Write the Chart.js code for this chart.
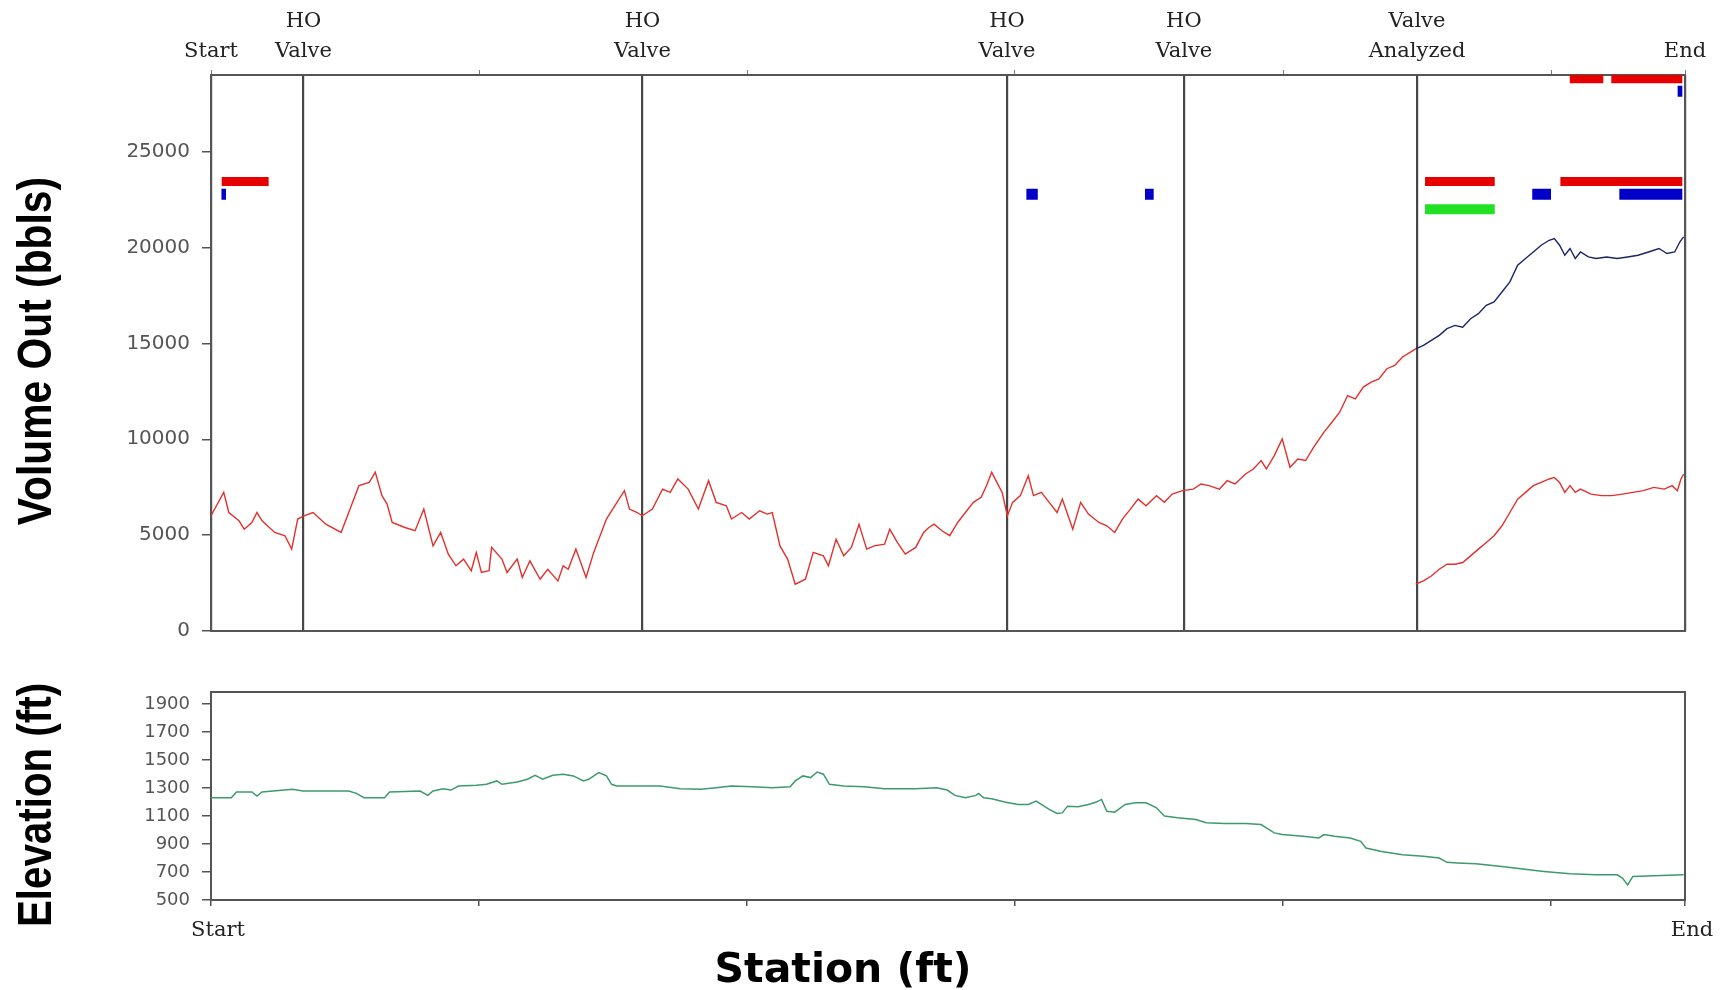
<!DOCTYPE html>
<html>
<head>
<meta charset="utf-8">
<script src="https://cdn.jsdelivr.net/npm/chart.js@4.4.1/dist/chart.umd.min.js"></script>
<style>
  html, body { margin: 0; padding: 0; background: #fff; }
  #wrap { position: relative; width: 1721px; height: 990px; overflow: hidden; }
  canvas { position: absolute; left: 0; }
  #volChart { top: 0; }
  #elevChart { top: 660px; }
  #stationTitle { position: absolute; left: 643px; width: 400px; top: 944px; text-align: center;
    font: bold 41px 'DejaVu Sans', sans-serif; line-height: 48px; color: #000; }
</style>
</head>
<body>
<div id="wrap">
  <canvas id="volChart" width="1721" height="660"></canvas>
  <canvas id="elevChart" width="1721" height="330"></canvas>
  <div id="stationTitle">Station (ft)</div>
</div>
<script>
// station axis is drawn 0..110 between Start and End
const stationMax = 110;
const valveStations = [0, 6.9, 32.2, 59.4, 72.6, 90.0, 110];
const valveLabels = ["Start", ["HO", "Valve"], ["HO", "Valve"], ["HO", "Valve"], ["HO", "Valve"], ["Valve", "Analyzed"], "End"];
const volumeTicks = [0, 5000, 10000, 15000, 20000, 25000];
const elevTicks = [500, 700, 900, 1100, 1300, 1500, 1700, 1900];

// volume out, upstream of analyzed valve
const redX = [0, 0.95, 1.33, 2.09, 2.48, 3.05, 3.43, 3.81, 4.76, 5.52, 6.02, 6.47, 6.93, 7.62, 8.57, 9.71,
  10.47, 11.04, 11.81, 12.26, 12.76, 13.14, 13.52, 14.47, 15.23, 15.88, 16.57, 17.14, 17.71, 18.28, 18.85,
  19.42, 19.8, 20.18, 20.75, 20.94, 21.71, 22.09, 22.85, 23.23, 23.8, 24.56, 25.13, 25.89, 26.28, 26.66,
  27.23, 27.99, 28.56, 29.51, 30.85, 31.23, 31.8, 32.18, 32.94, 33.7, 34.27, 34.84, 35.61, 36.37, 37.13,
  37.7, 38.46, 38.84, 39.6, 40.17, 40.94, 41.51, 41.89, 42.46, 43.03, 43.6, 44.36, 44.94, 45.7, 46.08,
  46.65, 47.22, 47.79, 48.36, 48.93, 49.5, 50.27, 50.65, 51.22, 51.81, 52.59, 53.18, 53.57, 53.96, 54.55,
  55.13, 55.72, 56.3, 56.89, 57.47, 57.87, 58.26, 58.65, 59.04, 59.43, 59.82, 60.4, 60.99, 61.38, 61.97,
  62.55, 63.14, 63.53, 64.31, 64.9, 65.48, 66.26, 66.85, 67.44, 68.02, 68.61, 69.19, 69.78, 70.56, 71.15,
  71.73, 72.51, 73.3, 73.88, 74.47, 75.25, 75.83, 76.42, 77.2, 77.79, 78.37, 78.76, 79.35, 79.94, 80.52,
  81.11, 81.69, 82.28, 83.06, 83.65, 84.23, 84.82, 85.4, 85.99, 86.58, 87.16, 87.75, 88.34, 88.92, 89.51, 89.9];
const redY = [6010, 7230, 6180, 5750, 5310, 5660, 6180, 5750, 5140, 4970, 4270, 5840, 6010, 6180, 5570, 5140,
  6530, 7580, 7750, 8280, 7060, 6620, 5660, 5400, 5230, 6360, 4440, 5140, 4010, 3400, 3750,
  3140, 4100, 3050, 3140, 4360, 3750, 3050, 3750, 2790, 3660, 2700, 3220, 2610, 3400, 3220,
  4270, 2790, 4100, 5840, 7320, 6360, 6180, 6010, 6360, 7400, 7230, 7930, 7400, 6360, 7840,
  6710, 6530, 5840, 6180, 5840, 6270, 6100, 6180, 4440, 3750, 2440, 2700, 4100, 3920, 3400,
  4790, 3920, 4360, 5570, 4270, 4440, 4530, 5310, 4620, 4010, 4360, 5140, 5400, 5570, 5230,
  4970, 5660, 6180, 6710, 6970, 7580, 8280, 7750, 7230, 6010, 6710, 7060, 8100, 7060, 7230,
  6710, 6180, 6880, 5310, 6710, 6100, 5660, 5490, 5140, 5840, 6360, 6880, 6530, 7060, 6710,
  7140, 7320, 7400, 7670, 7580, 7400, 7840, 7670, 8190, 8450, 8890, 8450, 9150, 10020, 8540,
  8970, 8890, 9580, 10370, 10890, 11410, 12280, 12110, 12720, 12980, 13150, 13680, 13850, 14290, 14550, 14720];

// downstream of analyzed valve
const blueX = [89.9, 90.48, 91.07, 91.66, 92.24, 92.83, 93.41, 94.0, 94.58, 95.17, 95.75, 96.34, 96.93, 97.51,
  98.1, 98.68, 99.27, 99.86, 100.25, 100.64, 101.03, 101.42, 101.81, 102.2, 102.79, 103.37, 104.15, 104.94,
  105.72, 106.5, 107.28, 108.06, 108.65, 109.23, 109.62, 109.9];
const blueY = [14720, 14900, 15160, 15420, 15770, 15940, 15850, 16290, 16550, 16990, 17160, 17680, 18210, 19080,
  19430, 19770, 20120, 20380, 20470, 20120, 19600, 19950, 19430, 19770, 19510, 19430, 19510, 19430,
  19510, 19600, 19770, 19950, 19690, 19770, 20300, 20560];
const lowRedX = [89.9, 90.48, 91.07, 91.66, 92.24, 92.83, 93.41, 94.0, 94.58, 95.17, 95.75, 96.34, 96.93, 97.51,
  98.1, 98.68, 99.27, 99.86, 100.25, 100.64, 101.03, 101.42, 101.81, 102.2, 102.98, 103.76, 104.54, 105.33,
  106.11, 106.89, 107.67, 108.45, 109.04, 109.43, 109.7, 109.9];
const lowRedY = [2440, 2610, 2870, 3220, 3480, 3480, 3570, 3920, 4270, 4620, 4970, 5490, 6180, 6880,
  7230, 7580, 7750, 7930, 8010, 7750, 7230, 7580, 7230, 7400, 7140, 7060, 7060, 7140,
  7230, 7320, 7490, 7400, 7580, 7320, 7930, 8190];

// flag bars near the top of the volume plot
const redBarStart = [0.8, 90.6, 100.7, 101.4, 104.5];
const redBarEnd = [4.3, 95.8, 109.8, 103.9, 109.8];
const redBarLevel = [23450, 23450, 23450, 28800, 28800];
const blueBarStart = [0.78, 60.85, 69.7, 98.6, 105.1, 109.45];
const blueBarEnd = [1.12, 61.7, 70.35, 100.0, 109.8, 109.8];
const blueBarLevel = [22780, 22780, 22780, 22780, 22780, 28150];
const greenBarStart = [90.6];
const greenBarEnd = [95.8];
const greenBarLevel = [22000];

// elevation profile
const elevX = [0, 1.52, 1.9, 3.05, 3.43, 3.81, 6.09, 6.85, 10.28, 10.85, 11.42, 12.95, 13.33, 15.61, 16.18,
  16.57, 17.33, 17.9, 18.47, 19.8, 20.56, 21.33, 21.71, 22.85, 23.61, 24.18, 24.75, 25.51, 26.28, 27.04,
  27.8, 28.18, 28.94, 29.51, 29.89, 30.27, 31.99, 33.51, 35.03, 36.56, 37.7, 38.84, 40.37, 41.89, 43.22,
  43.6, 44.17, 44.74, 45.24, 45.7, 46.15, 47.22, 48.74, 50.27, 52.55, 54.15, 54.94, 55.52, 56.3, 57.08,
  57.28, 57.67, 58.26, 59.23, 60.21, 60.99, 61.58, 62.55, 63.14, 63.53, 63.92, 64.7, 65.48, 66.07, 66.46,
  66.85, 67.44, 68.22, 69.0, 69.78, 70.56, 71.15, 72.12, 73.49, 74.27, 75.64, 77.2, 78.37, 78.96, 79.35,
  79.94, 81.5, 82.67, 83.06, 83.84, 85.01, 85.8, 86.19, 87.36, 88.92, 90.48, 91.66, 92.24, 93.02, 94.39,
  96.34, 97.9, 99.47, 101.42, 103.37, 104.94, 105.33, 105.72, 106.11, 107.67, 109.9];
const elevY = [1230, 1230, 1271, 1271, 1242, 1271, 1290, 1278, 1278, 1261, 1230, 1230, 1271, 1278, 1247,
  1278, 1295, 1285, 1314, 1319, 1326, 1350, 1326, 1343, 1362, 1390, 1362, 1390, 1398, 1386,
  1350, 1362, 1410, 1386, 1326, 1314, 1314, 1314, 1295, 1290, 1302, 1314, 1309, 1302, 1309,
  1350, 1386, 1374, 1414, 1398, 1326, 1314, 1309, 1295, 1295, 1302, 1285, 1247, 1230, 1247,
  1261, 1230, 1223, 1199, 1182, 1182, 1206, 1147, 1118, 1122, 1170, 1165, 1182, 1199, 1218,
  1134, 1127, 1182, 1194, 1194, 1158, 1099, 1087, 1075, 1051, 1047, 1047, 1039, 1003, 979,
  967, 955, 943, 967, 955, 943, 919, 871, 847, 823, 812, 800, 769, 765, 759,
  740, 721, 704, 687, 680, 680, 656, 608, 668, 673, 680];

function pts(xs, ys) {
  return xs.map((x, i) => ({x: x, y: ys[i]}));
}

// each bar is a two point segment, a null point breaks it from the next one
function bars(starts, ends, levels) {
  const out = [];
  starts.forEach((s, i) => {
    out.push({x: s, y: levels[i]}, {x: ends[i], y: levels[i]}, {x: ends[i], y: null});
  });
  return out;
}

function lineSet(data, color, width) {
  return {data: data, borderColor: color, borderWidth: width, pointRadius: 0, tension: 0,
    spanGaps: false, borderCapStyle: "butt", fill: false};
}

const frame = {
  id: "frame",
  beforeDatasetsDraw(chart) {
    const {ctx, chartArea: a} = chart;
    ctx.save();
    ctx.strokeStyle = "#555";
    ctx.lineWidth = 2;
    ctx.strokeRect(a.left, a.top, a.right - a.left, a.bottom - a.top);
    ctx.restore();
  }
};

// rotated axis title, squeezed to look like the condensed bold face of the original
const sideTitle = {
  id: "sideTitle",
  afterDraw(chart, args, opts) {
    const {ctx, chartArea: a} = chart;
    ctx.save();
    ctx.translate(opts.x, (a.top + a.bottom) / 2 + opts.dy);
    ctx.rotate(-Math.PI / 2);
    ctx.scale(opts.squeeze, 1);
    ctx.font = "bold 48px 'Liberation Sans', Arial, sans-serif";
    ctx.textAlign = "center";
    ctx.textBaseline = "middle";
    ctx.fillStyle = "#000";
    ctx.fillText(opts.text, 0, 0);
    ctx.restore();
  }
};

Chart.defaults.font.family = "'DejaVu Sans', sans-serif";
const serifFont = {family: "'DejaVu Serif', 'Liberation Serif', serif", size: 21, lineHeight: 1.42};

const volChart = new Chart(document.getElementById("volChart"), {
  type: "line",
  data: {
    datasets: [
      lineSet(pts(redX, redY), "#e2302c", 1.4),
      lineSet(pts(blueX, blueY), "#1b2466", 1.4),
      lineSet(pts(lowRedX, lowRedY), "#e2302c", 1.4),
      lineSet(bars(redBarStart, redBarEnd, redBarLevel), "#e60000", 9),
      lineSet(bars(greenBarStart, greenBarEnd, greenBarLevel), "#22e022", 10),
      lineSet(bars(blueBarStart, blueBarEnd, blueBarLevel), "#0000c8", 11),
    ]
  },
  options: {
    responsive: false,
    animation: false,
    layout: {padding: {left: 0, right: 36, top: 0, bottom: 29}},
    plugins: {
      legend: {display: false},
      tooltip: {enabled: false},
      sideTitle: {text: "Volume Out (bbls)", x: 38, dy: -2, squeeze: 0.85}
    },
    scales: {
      x: {type: "linear", min: 0, max: stationMax, display: false},
      xt: {
        type: "linear", position: "top", min: 0, max: stationMax, weight: 0,
        ticks: {display: false, stepSize: 20},
        grid: {drawOnChartArea: false, drawTicks: true, tickLength: 5, color: "#777"},
        border: {display: false},
        afterFit: s => { s.height = 5; }
      },
      x2: {
        type: "linear", position: "top", min: 0, max: stationMax, weight: 1,
        afterBuildTicks: s => { s.ticks = valveStations.map(v => ({value: v})); },
        ticks: {autoSkip: false, maxRotation: 0, padding: 4, color: "#222", font: serifFont,
          callback: (v, i) => valveLabels[i]},
        grid: {drawOnChartArea: true, drawTicks: false, color: "#464646", lineWidth: 2.2},
        border: {display: false},
        afterFit: s => { s.height = 70; }
      },
      y: {
        min: 0, max: 29000,
        afterBuildTicks: s => { s.ticks = volumeTicks.map(v => ({value: v})); },
        ticks: {color: "#555", padding: 12, font: {size: 20}, callback: v => String(v)},
        grid: {drawOnChartArea: false, drawTicks: true, tickLength: 9, color: "#555", lineWidth: 1.5},
        border: {display: false},
        afterFit: s => { s.width = 211; }
      }
    }
  },
  plugins: [frame, sideTitle]
});

const elevChart = new Chart(document.getElementById("elevChart"), {
  type: "line",
  data: {
    datasets: [lineSet(pts(elevX, elevY), "#3c9a6e", 1.5)]
  },
  options: {
    responsive: false,
    animation: false,
    layout: {padding: {left: 0, right: 36, top: 32, bottom: 0}},
    plugins: {
      legend: {display: false},
      tooltip: {enabled: false},
      sideTitle: {text: "Elevation (ft)", x: 38, dy: 9, squeeze: 0.84}
    },
    scales: {
      x: {
        type: "linear", min: 0, max: stationMax,
        ticks: {stepSize: 20, autoSkip: false, maxRotation: 0, padding: 12, labelOffset: 7, color: "#222",
          font: {family: serifFont.family, size: 21},
          callback: v => (v === 0 ? "Start" : (v === stationMax ? "End" : ""))},
        grid: {drawOnChartArea: false, drawTicks: true, tickLength: 6, color: "#555", lineWidth: 1.5},
        border: {display: false},
        afterFit: s => { s.height = 90; }
      },
      y: {
        min: 500, max: 1985,
        afterBuildTicks: s => { s.ticks = elevTicks.map(v => ({value: v})); },
        ticks: {color: "#555", padding: 12, font: {size: 18}, callback: v => String(v)},
        grid: {drawOnChartArea: false, drawTicks: true, tickLength: 9, color: "#555", lineWidth: 1.5},
        border: {display: false},
        afterFit: s => { s.width = 211; }
      }
    }
  },
  plugins: [frame, sideTitle]
});
</script>
</body>
</html>
